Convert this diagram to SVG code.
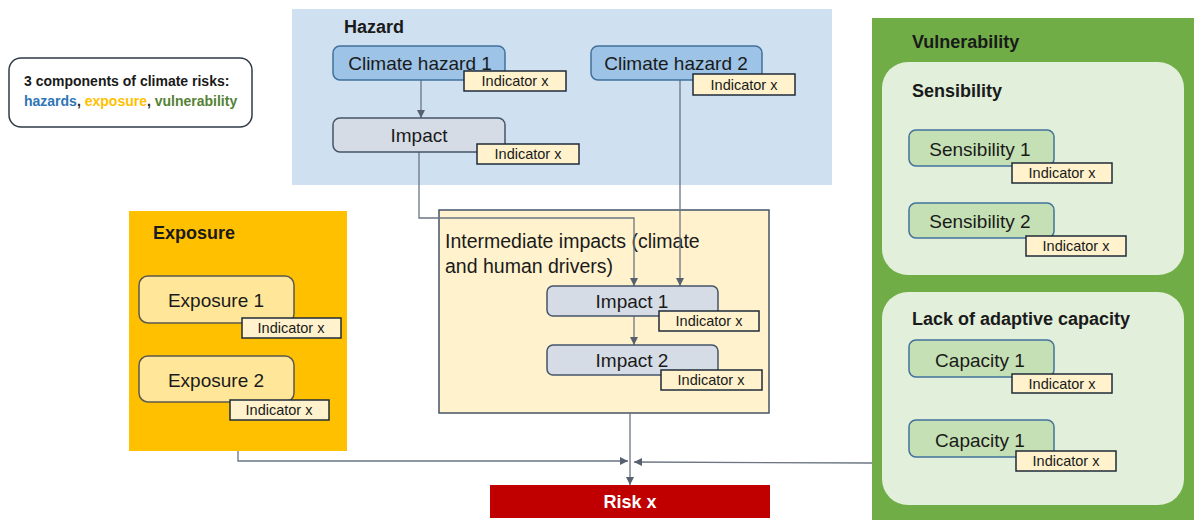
<svg xmlns="http://www.w3.org/2000/svg" width="1194" height="520" viewBox="0 0 1194 520">
<defs>
<marker id="arr" viewBox="0 0 10 10" refX="10" refY="5" markerWidth="8" markerHeight="8" markerUnits="userSpaceOnUse" orient="auto">
<path d="M0,0 L10,5 L0,10 z" fill="#56606e"/>
</marker>
<style>
text{font-family:"Liberation Sans",Arial,sans-serif;fill:#1a1a1a}
.title{font-size:18px;font-weight:bold}
.lbl{font-size:19px;text-anchor:middle}
.ind{font-size:14.5px;text-anchor:middle}
.indbox{fill:#fff2cc;stroke:#1f2b3a;stroke-width:1.5}
.haz{fill:#9dc3e6;stroke:#41719c;stroke-width:1.5}
.imp{fill:#d6dce5;stroke:#44546a;stroke-width:1.5}
.exp{fill:#ffe699;stroke:#5b5a4e;stroke-width:1.5}
.sen{fill:#c5e0b4;stroke:#41719c;stroke-width:1.5}
.conn{fill:none;stroke:#6b7584;stroke-width:1.3}
</style>
</defs>
<rect width="1194" height="520" fill="#ffffff"/>

<g id="legend">
<rect x="9" y="58" width="243" height="69" rx="12" fill="#fff" stroke="#2f3a48" stroke-width="1.5"/>
<text x="24" y="86" style="font-size:14px;font-weight:bold">3 components of climate risks:</text>
<text x="24" y="106" style="font-size:14px;font-weight:bold"><tspan fill="#2e75b6">hazards</tspan>, <tspan fill="#ffc000">exposure</tspan>, <tspan fill="#548235">vulnerability</tspan></text>
</g>

<g id="hazard">
<rect x="292" y="9" width="540" height="176" fill="#cfe0f1"/>
<text class="title" x="344" y="33">Hazard</text>
</g>

<g id="exposure">
<rect x="129" y="211" width="218" height="240" fill="#ffc000"/>
<text class="title" x="153" y="239">Exposure</text>
</g>

<g id="intermediate">
<rect x="439" y="210" width="330" height="203" fill="#fff2cc" stroke="#44546a" stroke-width="1.5"/>
<text x="445" y="248" style="font-size:19.5px">Intermediate impacts (climate</text>
<text x="445" y="273" style="font-size:19.5px">and human drivers)</text>
</g>

<g id="vulnerability">
<rect x="872" y="18" width="322" height="502" fill="#70ad47"/>
<text class="title" x="912" y="48">Vulnerability</text>
</g>
<g id="sensibility">
<rect x="882" y="62" width="302" height="213" rx="26" fill="#e2efda"/>
<text class="title" x="912" y="97">Sensibility</text>
</g>
<g id="adaptive">
<rect x="882" y="292" width="302" height="213" rx="26" fill="#e2efda"/>
<text class="title" x="912" y="325">Lack of adaptive capacity</text>
</g>

<g id="connectors">
<line class="conn" x1="421" y1="80" x2="421" y2="118" marker-end="url(#arr)"/>
<polyline class="conn" points="419,152 419,218 634,218 634,286" marker-end="url(#arr)"/>
<line class="conn" x1="680" y1="80" x2="680" y2="286" marker-end="url(#arr)"/>
<line class="conn" x1="634" y1="316" x2="634" y2="345" marker-end="url(#arr)"/>
<line class="conn" x1="630" y1="413" x2="630" y2="485" marker-end="url(#arr)"/>
<polyline class="conn" points="238,451 238,461 628,461" marker-end="url(#arr)"/>
<line class="conn" x1="872" y1="463" x2="634" y2="462" marker-end="url(#arr)"/>
</g>

<g id="climate-hazard-1">
<rect class="haz" x="333" y="46" width="172" height="34" rx="7"/>
<text class="lbl" x="420" y="70">Climate hazard 1</text>
<rect class="indbox" x="464" y="71" width="102" height="20"/>
<text class="ind" x="515" y="86">Indicator x</text>
</g>
<g id="climate-hazard-2">
<rect class="haz" x="591" y="46" width="171" height="34" rx="7"/>
<text class="lbl" x="676" y="70">Climate hazard 2</text>
<rect class="indbox" x="693" y="74" width="102" height="21"/>
<text class="ind" x="744" y="90">Indicator x</text>
</g>
<g id="impact">
<rect class="imp" x="333" y="118" width="172" height="34" rx="7"/>
<text class="lbl" x="419" y="142">Impact</text>
<rect class="indbox" x="477" y="144" width="102" height="20"/>
<text class="ind" x="528" y="159">Indicator x</text>
</g>

<g id="exposure-1">
<rect class="exp" x="139" y="276" width="155" height="47" rx="9"/>
<text class="lbl" x="216" y="307">Exposure 1</text>
<rect class="indbox" x="242" y="318" width="99" height="20"/>
<text class="ind" x="291" y="333">Indicator x</text>
</g>
<g id="exposure-2">
<rect class="exp" x="139" y="356" width="155" height="46" rx="9"/>
<text class="lbl" x="216" y="387">Exposure 2</text>
<rect class="indbox" x="230" y="400" width="99" height="20"/>
<text class="ind" x="279" y="415">Indicator x</text>
</g>

<g id="impact-1">
<rect class="imp" x="547" y="286" width="171" height="30" rx="6"/>
<text class="lbl" x="632" y="308">Impact 1</text>
<rect class="indbox" x="659" y="311" width="100" height="20"/>
<text class="ind" x="709" y="326">Indicator x</text>
</g>
<g id="impact-2">
<rect class="imp" x="547" y="345" width="171" height="30" rx="6"/>
<text class="lbl" x="632" y="367">Impact 2</text>
<rect class="indbox" x="661" y="370" width="101" height="20"/>
<text class="ind" x="711" y="385">Indicator x</text>
</g>

<g id="risk">
<rect x="490" y="485" width="280" height="33" fill="#c00000"/>
<text x="630" y="508" style="font-size:18px;font-weight:bold;fill:#ffffff;text-anchor:middle">Risk x</text>
</g>

<g id="sensibility-1">
<rect class="sen" x="909" y="130" width="145" height="36" rx="7"/>
<text class="lbl" x="980" y="156">Sensibility 1</text>
<rect class="indbox" x="1012" y="163" width="100" height="20"/>
<text class="ind" x="1062" y="178">Indicator x</text>
</g>
<g id="sensibility-2">
<rect class="sen" x="909" y="203" width="145" height="35" rx="7"/>
<text class="lbl" x="980" y="228">Sensibility 2</text>
<rect class="indbox" x="1026" y="236" width="100" height="20"/>
<text class="ind" x="1076" y="251">Indicator x</text>
</g>
<g id="capacity-1">
<rect class="sen" x="909" y="340" width="145" height="37" rx="7"/>
<text class="lbl" x="980" y="367">Capacity 1</text>
<rect class="indbox" x="1012" y="374" width="100" height="19"/>
<text class="ind" x="1062" y="389">Indicator x</text>
</g>
<g id="capacity-1b">
<rect class="sen" x="909" y="420" width="145" height="37" rx="7"/>
<text class="lbl" x="980" y="447">Capacity 1</text>
<rect class="indbox" x="1016" y="451" width="100" height="20"/>
<text class="ind" x="1066" y="466">Indicator x</text>
</g>
</svg>
